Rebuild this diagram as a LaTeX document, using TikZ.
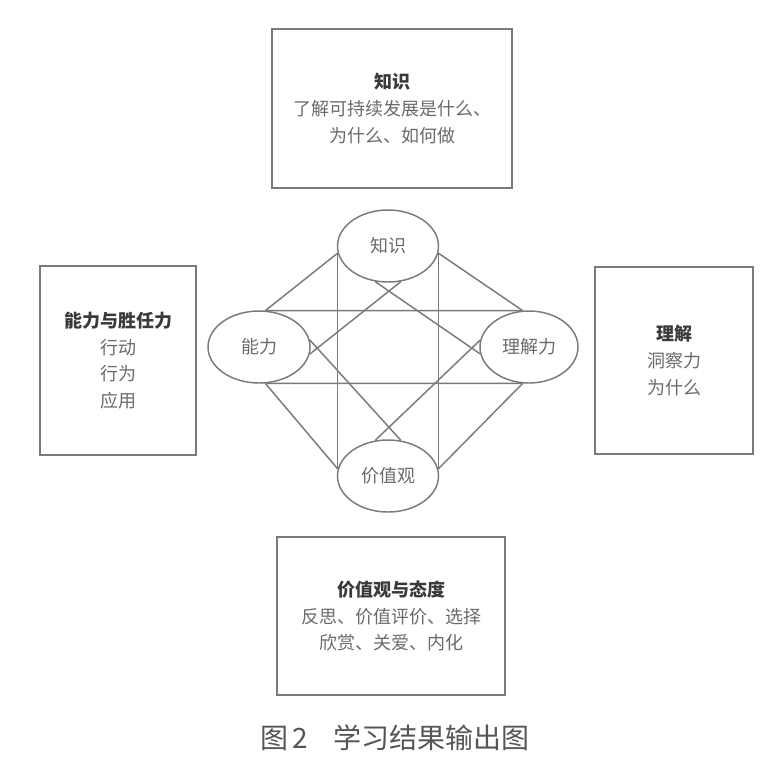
\documentclass[tikz,border=0pt]{standalone}
\usepackage{fontspec}
\setmainfont{Noto Sans CJK SC}
\usetikzlibrary{shapes.geometric}
\definecolor{linegray}{HTML}{7A7A7A}
\definecolor{textgray}{HTML}{6A6A6A}
\definecolor{headgray}{HTML}{3A3A3A}
\definecolor{capgray}{HTML}{555555}
\tikzset{
  box/.style={draw=linegray, line width=1.5pt, align=center, inner sep=0pt,
    text=textgray, font=\fontsize{13.5}{20}\selectfont},
  oval/.style={ellipse, draw=linegray, line width=1.1pt, inner sep=0pt,
    text=textgray, font=\fontsize{13.5}{16}\selectfont,
    minimum width=75.75pt, minimum height=54pt},
  link/.style={draw=linegray, line width=1.1pt},
  head/.style={}
}
\newcommand{\hd}[1]{{\bfseries\color{headgray}#1}}
\begin{document}
\begin{tikzpicture}[x=0.75pt, y=-0.75pt]
\useasboundingbox (0,0) rectangle (784,783);
% boxes
\node[box, minimum width=180pt, minimum height=119.25pt] (kbox) at (392,108.5)
  {\hd{知识}\\了解可持续发展是什么、\\为什么、如何做};
\node[box, minimum width=117pt, minimum height=141.75pt] (abox) at (118,360.5)
  {\hd{能力与胜任力}\\行动\\行为\\应用};
\node[box, minimum width=118.5pt, minimum height=140.25pt] (ubox) at (674,360.5)
  {\hd{理解}\\洞察力\\为什么};
\node[box, minimum width=171pt, minimum height=118.5pt] (vbox) at (391,616)
  {\hd{价值观与态度}\\反思、价值评价、选择\\欣赏、关爱、内化};
% ellipses
\node[oval] (top) at (388,246) {知识};
\node[oval, minimum width=76.5pt] (left) at (259,347) {能力};
\node[oval, minimum width=73.5pt] (right) at (529,347) {理解力};
\node[oval] (bottom) at (388,476) {价值观};
% outer diamond
\draw[link] (top.188) -- (left.80);
\draw[link] (top.352) -- (right.100);
\draw[link] (left.280) -- (bottom.172);
\draw[link] (right.260) -- (bottom.8);
% verticals
\draw[link] (top.188) -- (bottom.172);
\draw[link] (top.352) -- (bottom.8);
% horizontals
\draw[link] (left.80) -- (right.100);
\draw[link] (left.280) -- (right.260);
% inner crossing lines
\draw[link] (top.250) -- (right.188);
\draw[link] (top.290) -- (left.352);
\draw[link] (bottom.110) -- (right.172);
\draw[link] (bottom.70) -- (left.8);
% caption
\node[text=capgray, font=\fontsize{21}{24}\selectfont, inner sep=0pt] (cap) at (395,738)
  {图\,2\hspace{0.9em}学习结果输出图};
\end{tikzpicture}
\end{document}
